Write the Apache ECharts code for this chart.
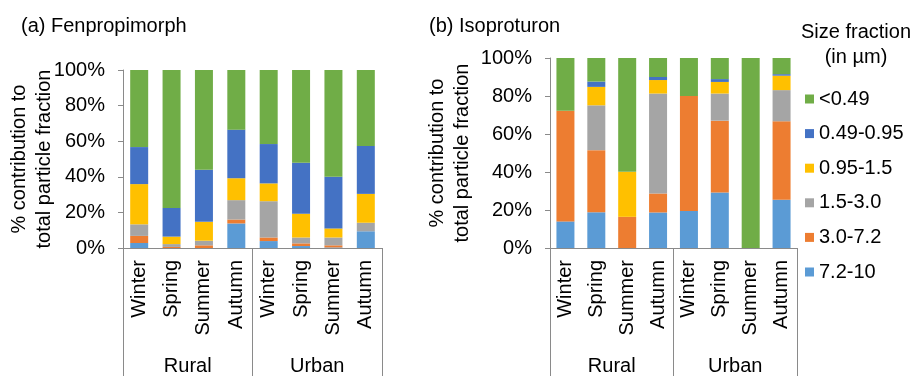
<!DOCTYPE html>
<html>
<head>
<meta charset="utf-8">
<script src="https://cdn.jsdelivr.net/npm/echarts@6/dist/echarts.min.js"></script>
<style>
  html, body { margin: 0; padding: 0; background: #fff; }
  #chart { width: 917px; height: 376px; }
</style>
</head>
<body>
<div id="chart"></div>
<script>
// Categories
const seasons = ['Winter', 'Spring', 'Summer', 'Autumn', 'Winter', 'Spring', 'Summer', 'Autumn'];
const sites = ['Rural', 'Urban'];
// Size fractions, stacked bottom to top
const fractions = ['7.2-10', '3.0-7.2', '1.5-3.0', '0.95-1.5', '0.49-0.95', '<0.49'];
const legendOrder = ['<0.49', '0.49-0.95', '0.95-1.5', '1.5-3.0', '3.0-7.2', '7.2-10'];

// (a) Fenpropimorph, % contribution per size fraction
const fen_7_2_10   = [2.8, 0, 0, 13.8, 3.9, 1.1, 0.3, 9.4];
const fen_3_0_7_2  = [4.0, 0.6, 1.5, 2.2, 2.0, 1.5, 1.2, 0];
const fen_1_5_3_0  = [6.5, 1.6, 2.6, 10.9, 20.4, 3.3, 4.4, 4.8];
const fen_095_1_5  = [22.6, 4.2, 10.6, 12.3, 10.0, 13.4, 5.1, 16.2];
const fen_049_095  = [20.8, 16.1, 29.3, 27.3, 22.1, 28.6, 29.0, 26.9];
const fen_lt_049   = [43.3, 77.5, 56.0, 33.5, 41.6, 52.1, 60.0, 42.7];

// (b) Isoproturon, % contribution per size fraction
const iso_7_2_10   = [14.0, 18.8, 0, 18.7, 19.5, 29.2, 0, 25.4];
const iso_3_0_7_2  = [58.2, 32.7, 16.4, 10.0, 60.5, 37.8, 0, 41.3];
const iso_1_5_3_0  = [0, 23.6, 0, 52.6, 0, 14.3, 0, 16.4];
const iso_095_1_5  = [0, 9.7, 23.7, 7.1, 0, 6.1, 0, 7.6];
const iso_049_095  = [0, 2.8, 0, 1.6, 0, 1.5, 0, 0.8];
const iso_lt_049   = [27.8, 12.4, 59.9, 10.0, 20.0, 11.1, 100, 8.5];

const fenSeries = [fen_7_2_10, fen_3_0_7_2, fen_1_5_3_0, fen_095_1_5, fen_049_095, fen_lt_049];
const isoSeries = [iso_7_2_10, iso_3_0_7_2, iso_1_5_3_0, iso_095_1_5, iso_049_095, iso_lt_049];

const colors = {
  '7.2-10': '#5B9BD5',
  '3.0-7.2': '#ED7D31',
  '1.5-3.0': '#A5A5A5',
  '0.95-1.5': '#FFC000',
  '0.49-0.95': '#4472C4',
  '<0.49': '#70AD47'
};

const FONT = 'Liberation Sans, Arial, sans-serif';
const FS = 20;
const AXIS_GRAY = '#8a8a8a';

function yAxisFor(gridIndex, gap) {
  return {
    type: 'value',
    gridIndex: gridIndex,
    min: 0, max: 100, interval: 20,
    name: '% contribution to\ntotal particle fraction',
    nameLocation: 'middle',
    nameRotate: 90,
    nameGap: gap,
    nameMoveOverlap: false,
    nameTextStyle: { fontFamily: FONT, fontSize: FS, color: '#000', lineHeight: 25 },
    axisLine: { show: true, lineStyle: { color: AXIS_GRAY, width: 1 } },
    axisTick: { show: true, length: 5, lineStyle: { color: AXIS_GRAY } },
    splitLine: { show: false },
    axisLabel: {
      formatter: '{value}%', fontFamily: FONT, fontSize: FS, color: '#000', margin: 18
    }
  };
}

function seasonAxis(gridIndex) {
  return {
    type: 'category',
    gridIndex: gridIndex,
    position: 'bottom',
    data: seasons,
    axisLine: { show: true, lineStyle: { color: AXIS_GRAY, width: 1 } },
    axisTick: { show: false },
    axisLabel: {
      interval: 0, rotate: 90, margin: 12,
      fontFamily: FONT, fontSize: FS, color: '#000'
    }
  };
}

// Second category level: site groups with long boundary ticks as separators
function siteAxis(gridIndex) {
  return {
    type: 'category',
    gridIndex: gridIndex,
    position: 'bottom',
    offset: 0,
    data: sites,
    axisLine: { show: false },
    axisTick: { show: true, length: 130, lineStyle: { color: AXIS_GRAY, width: 1 } },
    axisLabel: {
      interval: 0, margin: 108,
      fontFamily: FONT, fontSize: FS, color: '#000'
    }
  };
}

function buildSeries(values, xIdx, yIdx, stack) {
  return fractions.map((name, i) => ({
    name: name,
    type: 'bar',
    stack: stack,
    xAxisIndex: xIdx,
    yAxisIndex: yIdx,
    barWidth: 18,
    itemStyle: { color: colors[name] },
    emphasis: { disabled: true },
    data: values[i]
  }));
}

const chart = echarts.init(document.getElementById('chart'), null, { renderer: 'canvas' });

const titleStyle = { fontFamily: FONT, fontSize: FS, fontWeight: 'normal', color: '#000' };

chart.setOption({
  animation: false,
  textStyle: { fontFamily: FONT },
  title: [
    { text: '(a) Fenpropimorph', left: 21, top: 16, padding: 0, textStyle: titleStyle },
    { text: '(b) Isoproturon', left: 429, top: 16, padding: 0, textStyle: titleStyle },
    { text: 'Size fraction\n(in µm)', left: 856, top: 20, padding: 0, textAlign: 'center',
      textStyle: Object.assign({ lineHeight: 25, align: 'center' }, titleStyle) }
  ],
  legend: {
    orient: 'vertical',
    left: 800,
    top: 84,
    itemWidth: 9,
    itemHeight: 9,
    itemGap: 14.6,
    icon: 'rect',
    data: legendOrder,
    selectedMode: false,
    textStyle: { fontFamily: FONT, fontSize: FS, color: '#000', lineHeight: 20 }
  },
  grid: [
    { left: 123, top: 70, width: 259, height: 180 },
    { left: 550, top: 58, width: 247, height: 193 }
  ],
  xAxis: [seasonAxis(0), siteAxis(0), seasonAxis(1), siteAxis(1)],
  yAxis: [yAxisFor(0, 66), yAxisFor(1, 75)],
  series: [].concat(
    buildSeries(fenSeries, 0, 0, 'fen'),
    buildSeries(isoSeries, 2, 1, 'iso')
  )
});
</script>
</body>
</html>
